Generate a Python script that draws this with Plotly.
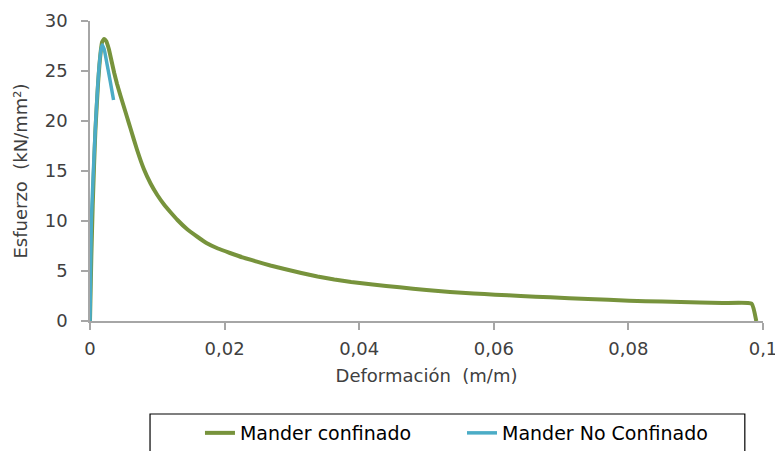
import plotly.graph_objects as go

# Mander confinado
strain_conf = [0, 0.0002, 0.0004, 0.0006, 0.0008, 0.001, 0.0012, 0.0014, 0.0016, 0.0018,
               0.0021, 0.0024, 0.0028, 0.0032, 0.0036, 0.004, 0.0045, 0.005, 0.0055, 0.006,
               0.007, 0.008, 0.009, 0.010, 0.011, 0.012, 0.013, 0.0144, 0.016, 0.0173,
               0.019, 0.0208, 0.0228, 0.0248, 0.0268, 0.0289, 0.0314, 0.0338, 0.0363,
               0.0388, 0.042, 0.046, 0.050, 0.0535, 0.057, 0.0602, 0.064, 0.0684, 0.074,
               0.0801, 0.085, 0.0906, 0.094, 0.0983, 0.0990]
stress_conf = [0, 6.5, 11.5, 15.5, 19.0, 21.5, 23.8, 25.6, 27.0, 27.9,
               28.2, 28.0, 27.2, 26.0, 24.8, 23.75, 22.6, 21.5, 20.4, 19.3,
               17.1, 15.2, 13.75, 12.6, 11.65, 10.85, 10.1, 9.2, 8.4, 7.8,
               7.25, 6.8, 6.33, 5.93, 5.55, 5.2, 4.8, 4.45, 4.15,
               3.9, 3.65, 3.37, 3.1, 2.9, 2.75, 2.63, 2.5, 2.37, 2.2,
               2.03, 1.94, 1.85, 1.8, 1.74, 0]

# Mander No Confinado
strain_nc = [0, 0.0001, 0.0002, 0.0005, 0.00085, 0.0011, 0.0013, 0.0016, 0.0018, 0.0021,
             0.0025, 0.003, 0.0035]
stress_nc = [0, 5.5, 10.0, 15.0, 20.0, 23.0, 25.0, 27.0, 27.6, 27.2,
             25.8, 24.0, 22.1]

x_ticks = [0, 0.02, 0.04, 0.06, 0.08, 0.1]
x_labels = ["0", "0,02", "0,04", "0,06", "0,08", "0,1"]
y_ticks = [0, 5, 10, 15, 20, 25, 30]

GREEN = "#77933C"
BLUE = "#4BACC6"
AXIS = "#A6A6A6"
TXT = "#404040"
FONT = "DejaVu Sans"

fig = go.Figure()
fig.add_trace(go.Scatter(x=strain_conf, y=stress_conf, mode="lines", name="Mander confinado",
                         line=dict(color=GREEN, width=4, shape="spline", smoothing=0.4),
                         legend="legend"))
fig.add_trace(go.Scatter(x=strain_nc, y=stress_nc, mode="lines", name="Mander No Confinado",
                         line=dict(color=BLUE, width=3.5, shape="spline", smoothing=0.4),
                         legend="legend2"))

leg_common = dict(orientation="h", xanchor="left", yanchor="top", xref="container", yref="container",
                  font=dict(family=FONT, size=19, color="#000000"),
                  bgcolor="rgba(0,0,0,0)", borderwidth=0)

fig.update_layout(
    width=775, height=443,
    margin=dict(l=82, r=20, t=13, b=130),
    paper_bgcolor="white", plot_bgcolor="white",
    font=dict(family=FONT, size=18, color=TXT),
    showlegend=True,
    legend=dict(x=0.2477, y=0.0835, **leg_common),
    legend2=dict(x=0.5858, y=0.0835, **leg_common),
    xaxis=dict(range=[0, 0.1], tickvals=x_ticks, ticktext=x_labels, showgrid=False, zeroline=False,
               showline=True, linecolor=AXIS, linewidth=1.5, ticks="outside", ticklen=7,
               tickcolor=AXIS, tickwidth=1.5, automargin=False, ticklabelstandoff=4,
               title=dict(text="Deformación  (m/m)", standoff=11,
                          font=dict(family=FONT, size=18, color=TXT))),
    yaxis=dict(range=[0, 30], tickvals=y_ticks, showgrid=False, zeroline=False,
               showline=True, linecolor=AXIS, linewidth=1.5, ticks="outside", ticklen=7,
               tickcolor=AXIS, tickwidth=1.5, automargin=False, ticklabelstandoff=10,
               title=dict(text="Esfuerzo  (kN/mm²)", standoff=12,
                          font=dict(family=FONT, size=18, color=TXT))),
    shapes=[dict(type="rect", xref="paper", yref="paper", x0=0.0892, x1=0.973, y0=-0.5, y1=-0.31,
                 line=dict(color="#000000", width=1.2), fillcolor="rgba(0,0,0,0)", layer="below")],
)

fig.write_html("out.html")
